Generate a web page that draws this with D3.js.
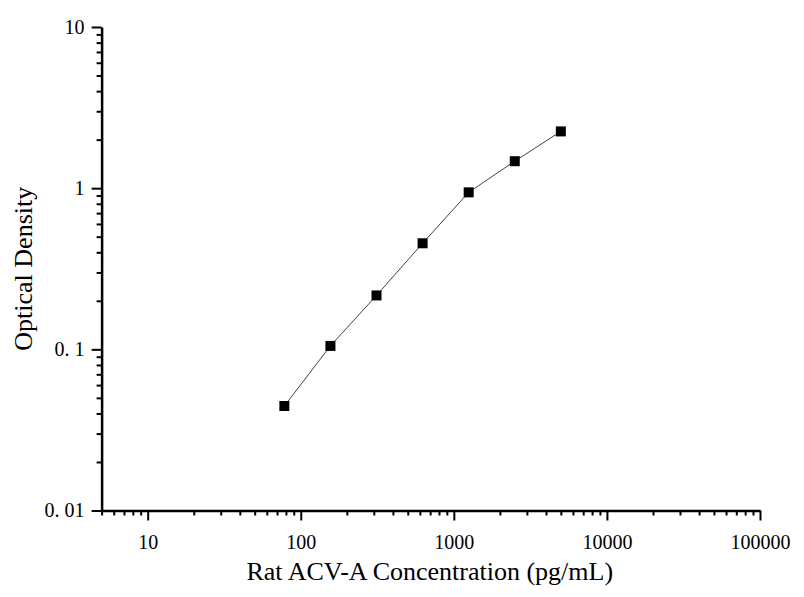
<!DOCTYPE html>
<html>
<head>
<meta charset="utf-8">
<script src="https://cdn.jsdelivr.net/npm/d3@7"></script>
<style>
  body { margin: 0; background: #fff; }
  svg { display: block; }
  text { font-family: "Liberation Serif", "Times New Roman", serif; fill: #000; }
</style>
</head>
<body>
<svg id="chart" width="804" height="597"></svg>
<script>
// standard curve readings
const concentrations = [78.125, 156.25, 312.5, 625, 1250, 2500, 5000];
const odValues = [0.0445, 0.105, 0.216, 0.455, 0.942, 1.47, 2.25];

const xMajorTicks = [10, 100, 1000, 10000, 100000];
const yMajorTicks = [0.01, 0.1, 1, 10];
const yTickLabels = ['0. 01', '0. 1', '1', '10'];

const xTitle = 'Rat ACV-A Concentration (pg/mL)';
const yTitle = 'Optical Density';

const width = 804, height = 597;
const margin = { top: 27, right: 44, bottom: 86.5, left: 101.6 };

const svg = d3.select('#chart');

const x = d3.scaleLog()
  .domain([5, 100000])
  .range([margin.left, width - margin.right]);

const y = d3.scaleLog()
  .domain([0.01, 10])
  .range([height - margin.bottom, margin.top]);

// minor ticks (2..9 of each decade) inside the domain
const minorTicks = (scale) => {
  const [lo, hi] = scale.domain();
  let out = [];
  for (let e = Math.floor(Math.log10(lo)); e < Math.ceil(Math.log10(hi)); e++) {
    for (let m = 2; m < 10; m++) {
      const v = m * Math.pow(10, e);
      if (v >= lo && v <= hi) out.push(v);
    }
  }
  return out;
};

// Minor tick axes first, then major with labels
svg.append('g')
  .attr('transform', `translate(0,${y.range()[0]})`)
  .call(d3.axisBottom(x).tickValues(minorTicks(x)).tickSize(5).tickFormat(''))
  .call(g => g.select('.domain').remove())
  .selectAll('line').attr('stroke', '#000').attr('stroke-width', 2);

svg.append('g')
  .attr('transform', `translate(${x.range()[0]},0)`)
  .call(d3.axisLeft(y).tickValues(minorTicks(y)).tickSize(5).tickFormat(''))
  .call(g => g.select('.domain').remove())
  .selectAll('line').attr('stroke', '#000').attr('stroke-width', 2);

const xAxis = svg.append('g')
  .attr('transform', `translate(0,${y.range()[0]})`)
  .call(d3.axisBottom(x)
    .tickValues(xMajorTicks)
    .tickSize(10)
    .tickSizeOuter(0)
    .tickPadding(14)
    .tickFormat(d => String(d)));

const yAxis = svg.append('g')
  .attr('transform', `translate(${x.range()[0]},0)`)
  .call(d3.axisLeft(y)
    .tickValues(yMajorTicks)
    .tickSize(10)
    .tickSizeOuter(0)
    .tickPadding(7)
    .tickFormat((d, i) => yTickLabels[i]));

[xAxis, yAxis].forEach(g => {
  g.select('.domain').attr('stroke', '#000').attr('stroke-width', 2.5);
  g.selectAll('.tick line').attr('stroke', '#000').attr('stroke-width', 2);
  g.selectAll('.tick text')
    .attr('font-size', 20)
    .attr('font-family', '"Liberation Serif", serif')
    .attr('fill', '#000');
});

// Curve
const line = d3.line()
  .x((d, i) => x(concentrations[i]))
  .y(d => y(d));

svg.append('path')
  .datum(odValues)
  .attr('fill', 'none')
  .attr('stroke', '#444')
  .attr('stroke-width', 1)
  .attr('d', line);

// Square markers
const size = 10;
svg.append('g')
  .selectAll('rect')
  .data(odValues)
  .join('rect')
  .attr('x', (d, i) => x(concentrations[i]) - size / 2)
  .attr('y', d => y(d) - size / 2)
  .attr('width', size)
  .attr('height', size)
  .attr('fill', '#000');

// Axis titles
svg.append('text')
  .attr('x', (x.range()[0] + x.range()[1]) / 2 - 1)
  .attr('y', 580)
  .attr('text-anchor', 'middle')
  .attr('font-size', 26)
  .text(xTitle);

svg.append('text')
  .attr('transform', `translate(32,${(y.range()[0] + y.range()[1]) / 2}) rotate(-90)`)
  .attr('text-anchor', 'middle')
  .attr('font-size', 26)
  .text(yTitle);
</script>
</body>
</html>
